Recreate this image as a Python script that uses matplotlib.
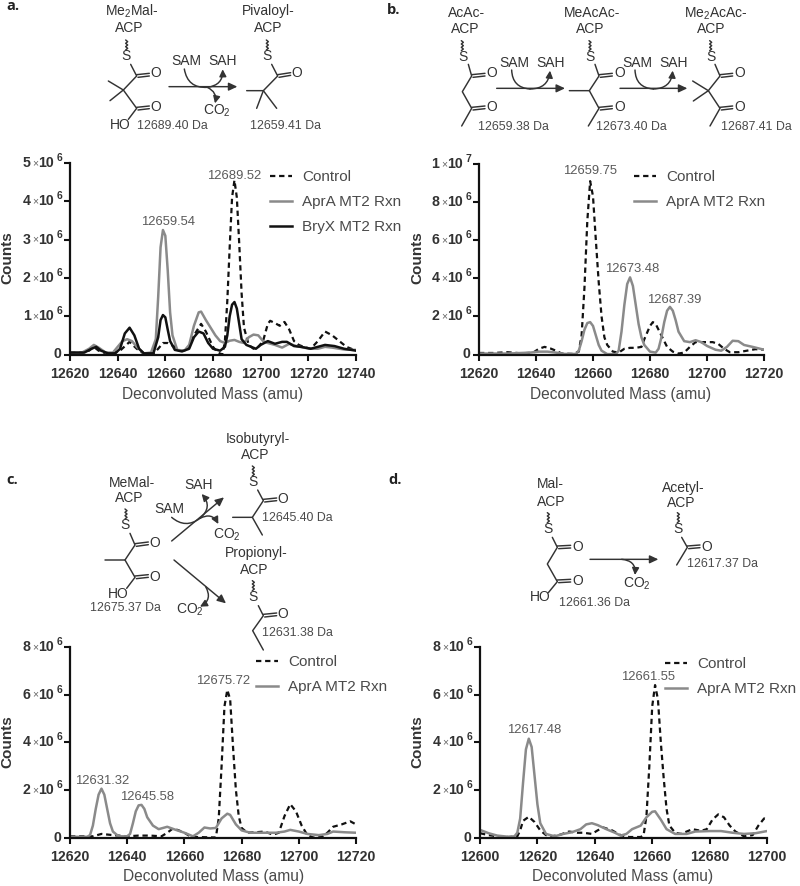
import matplotlib
matplotlib.use('Agg')
import matplotlib.pyplot as plt
from matplotlib.patches import FancyArrowPatch

plt.rcParams['font.family'] = ['Liberation Sans', 'DejaVu Sans']
plt.rcParams['mathtext.default'] = 'regular'

# ---- panel a, counts in 1e6
a_ctrl_x = [12620,12625,12628,12630,12632,12635,12638,12641,12645,12648,12651,12655,12657,12659,12661,12664,12666,12669,12672,12675,12677,12680,12682,12684,12685,12686,12687,12688,12689,12690,12691,12692,12693,12695,12697,12699,12701,12703,12704,12706,12708,12710,12712,12714,12716,12718,12721,12724,12727,12730,12733,12736,12740]
a_ctrl_y = [.05,.05,.1,.2,.1,.03,.03,.1,.33,.15,.02,.02,.15,.3,.3,.2,.1,.1,.5,.8,.6,.2,.05,0,.35,1.4,2.8,4.1,4.55,4.1,2.9,1.6,.7,.25,.15,.2,.35,.8,.88,.82,.75,.85,.65,.35,.25,.2,.15,.35,.6,.5,.35,.2,.1]
a_apra_x = [12620,12625,12628,12630,12632,12635,12638,12640,12642,12644,12646,12648,12651,12654,12656,12657,12658,12659,12660,12661,12662,12663,12665,12668,12670,12672,12674,12675,12677,12679,12681,12683,12685,12687,12689,12691,12693,12695,12697,12699,12701,12703,12706,12709,12712,12715,12718,12721,12724,12727,12730,12735,12740]
a_apra_y = [.05,.05,.15,.25,.18,.05,.05,.2,.35,.4,.35,.2,.03,.05,.4,1.5,2.8,3.25,3.1,2.2,1.1,.5,.12,.1,.25,.75,1.1,1.12,.9,.7,.5,.35,.3,.36,.38,.33,.3,.45,.52,.5,.35,.3,.25,.18,.28,.22,.18,.15,.15,.2,.18,.13,.12]
a_bryx_x = [12620,12626,12629,12631,12633,12636,12639,12641,12643,12645,12647,12649,12651,12655,12657,12658,12659,12660,12661,12662,12664,12667,12670,12672,12674,12676,12678,12680,12683,12685,12686,12687,12688,12689,12690,12691,12692,12694,12696,12698,12700,12703,12706,12709,12711,12714,12717,12721,12724,12727,12731,12735,12740]
a_bryx_y = [.05,.05,.15,.2,.1,.03,.03,.15,.55,.7,.5,.15,.03,.03,.45,.9,1.03,.97,.65,.35,.12,.08,.15,.45,.6,.55,.3,.15,.1,.2,.5,1.0,1.3,1.37,1.2,.8,.4,.25,.2,.15,.25,.35,.28,.33,.33,.22,.2,.15,.2,.25,.22,.15,.1]

# ---- panel b
b_ctrl_x = [12620,12625,12630,12635,12639,12641,12643,12645,12647,12649,12653,12655,12656,12657,12658,12659,12660,12661,12662,12663,12664,12665,12667,12669,12671,12673,12675,12677,12678,12680,12681,12682,12684,12686,12688,12690,12692,12694,12696,12699,12702,12704,12706,12708,12711,12714,12717,12720]
b_ctrl_y = [.08,.08,.12,.06,.1,.3,.4,.32,.2,.05,.03,.15,1.0,3.5,7,9.1,8.3,6,3.8,2,.9,.5,.15,.1,.3,.35,.35,.4,.8,1.5,1.7,1.6,1.0,.4,.15,.05,.1,.4,.65,.65,.65,.55,.3,.12,.12,.2,.28,.25]
b_apra_x = [12620,12630,12638,12641,12644,12647,12650,12654,12655,12656,12657,12658,12659,12660,12661,12662,12663,12665,12668,12669,12670,12671,12672,12673,12674,12675,12676,12677,12678,12680,12682,12683,12684,12685,12686,12687,12688,12689,12690,12692,12694,12696,12698,12700,12703,12705,12707,12709,12711,12713,12716,12720]
b_apra_y = [.05,.05,.1,.15,.15,.1,.03,.03,.2,.7,1.3,1.65,1.7,1.5,1.0,.5,.2,.02,.02,.2,1.2,2.6,3.7,4.05,3.6,2.6,1.6,.9,.5,.15,.1,.3,.9,1.7,2.3,2.5,2.3,1.8,1.2,.7,.65,.75,.65,.45,.25,.2,.4,.72,.7,.5,.4,.25]

# ---- panel c
c_ctrl_x = [12620,12625,12628,12631,12635,12640,12644,12648,12652,12654,12656,12658,12660,12662,12664,12671,12672,12673,12674,12675,12676,12677,12678,12679,12680,12682,12685,12688,12691,12693,12695,12697,12699,12701,12703,12705,12708,12710,12712,12715,12718,12720]
c_ctrl_y = [.05,.05,.05,.15,.1,.05,.08,.08,.05,.2,.38,.3,.2,.05,.02,0,.8,3.0,5.5,6.2,5.8,3.8,2.0,.9,.4,.2,.22,.25,.12,.2,.9,1.4,1.1,.5,.1,0,.02,.2,.45,.55,.68,.55]
c_apra_x = [12620,12626,12627,12628,12629,12630,12631,12632,12633,12634,12635,12637,12640,12641,12642,12643,12644,12645,12646,12647,12649,12651,12654,12657,12660,12662,12663,12665,12667,12669,12671,12673,12675,12676,12678,12680,12683,12686,12689,12692,12695,12697,12700,12703,12707,12710,12712,12716,12720]
c_apra_y = [.03,.03,.1,.5,1.2,1.8,2.05,1.8,1.2,.6,.25,.05,.05,.15,.6,1.1,1.35,1.37,1.2,.85,.5,.35,.45,.32,.2,.1,.05,.2,.42,.38,.4,.8,1.0,.95,.55,.3,.2,.2,.2,.2,.25,.32,.25,.15,.1,.15,.25,.22,.2]

# ---- panel d
d_ctrl_x = [12600,12603,12606,12610,12613,12614,12615,12617,12619,12621,12623,12625,12628,12631,12634,12636,12639,12641,12643,12646,12649,12652,12656,12657,12658,12659,12660,12661,12662,12663,12664,12665,12666,12668,12670,12672,12674,12677,12679,12681,12683,12685,12687,12689,12692,12695,12697,12699,12700]
d_ctrl_y = [.18,.1,.05,.02,.05,.3,.7,.87,.65,.3,.1,.05,.12,.25,.2,.2,.15,.3,.42,.3,.1,.02,.02,.1,.9,3.0,5.5,6.4,5.8,4.0,2.5,1.2,.5,.2,.15,.25,.35,.28,.35,.75,.97,.85,.5,.25,.05,.1,.5,.8,.75]
d_apra_x = [12600,12603,12606,12610,12612,12613,12614,12615,12616,12617,12618,12619,12620,12621,12623,12626,12629,12632,12635,12637,12639,12641,12644,12647,12649,12651,12653,12656,12658,12660,12661,12663,12665,12668,12672,12675,12680,12684,12688,12692,12696,12700]
d_apra_y = [.32,.18,.08,.03,.05,.2,.8,2.3,3.7,4.15,3.8,2.6,1.4,.6,.15,.05,.15,.22,.35,.55,.6,.52,.35,.2,.08,.15,.35,.5,.85,1.08,1.1,.75,.35,.15,.15,.25,.27,.27,.2,.15,.18,.27]

a_xticks = [12620,12640,12660,12680,12700,12720,12740]
b_xticks = [12620,12640,12660,12680,12700,12720]
c_xticks = [12620,12640,12660,12680,12700,12720]
d_xticks = [12600,12620,12640,12660,12680,12700]
a_yticks = [0,1,2,3,4,5]
b_yticks = [0,2,4,6,8,10]
c_yticks = [0,2,4,6,8]

a_peaks = [('12659.54',12661,3.45),('12689.52',12689,4.67)]
b_peaks = [('12659.75',12658.9,9.65),('12673.48',12673.7,4.47),('12687.39',12688.4,2.86)]
c_peaks = [('12631.32',12631.4,2.36),('12645.58',12647,1.7),('12675.72',12673.6,6.57)]
d_peaks = [('12617.48',12618.8,4.5),('12661.55',12658.4,6.74)]

W, H = 800, 886
GREY = '#8a8a8a'
DARK = '#333333'
TXT = '#4a4a4a'
fig = plt.figure(figsize=(W/100, H/100), dpi=100)

# overlay in pixel units for the reaction schemes and legend anchors
ov = fig.add_axes([0,0,1,1], zorder=5)
ov.set_xlim(0,W)
ov.set_ylim(H,0)
ov.axis('off')

def px_axes(x0, x1, ytop, ybot):
	ax = fig.add_axes([x0/W, 1-ybot/H, (x1-x0)/W, (ybot-ytop)/H])
	ax.patch.set_alpha(0)
	for s in ['top','right']:
		ax.spines[s].set_visible(False)
	for s in ['left','bottom']:
		ax.spines[s].set_linewidth(1.6)
		ax.spines[s].set_color('#111111')
	ax.tick_params(length=4.2, width=1.5, color='#111111')
	return ax

def sci_label(ax, y, digit, exp):
	# the x10^n tick labels have a small multiply sign, so built in pieces
	def part(s, dx, size, weight, col, dy=0, ha='right'):
		ax.annotate(s, xy=(0,y), xycoords=('axes fraction','data'), xytext=(dx*.72, dy*.72),
			textcoords='offset points', ha=ha, va='center', fontsize=size, fontweight=weight, color=col)
	part(digit, -39.5, 10.2, 'bold', DARK)
	part('\u00d7', -32, 7.5, 'normal', '#666666')
	part('10', -16.5, 10.2, 'bold', DARK)
	part(exp, -8, 7.5, 'bold', DARK, dy=5)

def style(ax, xlim, ymax, xticks, yticks, ylabels, px_counts, y_counts, y_xlabel, x_xlabel):
	ax.set_xlim(*xlim)
	ax.set_ylim(0, ymax)
	ax.set_xticks(xticks)
	ax.set_yticks(yticks)
	ax.set_xticklabels([str(t) for t in xticks], fontsize=10.2, fontweight='bold', color=DARK)
	ax.tick_params(axis='x', pad=5)
	ax.tick_params(axis='y', labelleft=False)
	for t, lab in zip(yticks, ylabels):
		if lab is None:
			ax.annotate('0', xy=(0,t), xycoords=('axes fraction','data'), xytext=(-6.5,0), textcoords='offset points',
				ha='right', va='center', fontsize=10.2, fontweight='bold', color=DARK)
		else:
			sci_label(ax, t, lab[0], lab[1])
	ov.text(px_counts, y_counts, 'Counts', rotation=90, ha='center', va='center', fontsize=11, fontweight='bold', color=DARK)
	ov.text(x_xlabel, y_xlabel, 'Deconvoluted Mass (amu)', ha='center', va='center', fontsize=11.2, color=TXT)

def peaks(ax, items):
	for s, x, y in items:
		ax.text(x, y, s, ha='center', va='center', fontsize=9.4, color='#5a5a5a')

def legend(ax, x, y):
	ax.legend(loc='upper left', bbox_to_anchor=(x,y), bbox_transform=ov.transData, frameon=False, fontsize=11,
		handlelength=1.45, handletextpad=.65, labelspacing=.72, borderpad=0, borderaxespad=0, labelcolor=TXT)

def ctrl(ax, x, y):
	ax.plot(x, y, color='#111111', lw=1.6, dashes=(2.4,1.7), label='Control')
def apra(ax, x, y):
	ax.plot(x, y, color=GREY, lw=1.8, label='AprA MT2 Rxn')

ax1 = px_axes(70, 356, 163, 354.5)
ctrl(ax1, a_ctrl_x, a_ctrl_y)
apra(ax1, a_apra_x, a_apra_y)
ax1.plot(a_bryx_x, a_bryx_y, color='#111111', lw=1.8, label='BryX MT2 Rxn')
style(ax1, (12620,12740), 5, a_xticks, a_yticks, [None]+[(str(i),'6') for i in a_yticks[1:]], 7.5, 258, 394, 213)
peaks(ax1, a_peaks)
legend(ax1, 270, 170)

ax2 = px_axes(479, 764, 164, 354.5)
ctrl(ax2, b_ctrl_x, b_ctrl_y)
apra(ax2, b_apra_x, b_apra_y)
style(ax2, (12620,12720), 10, b_xticks, b_yticks, [None,('2','6'),('4','6'),('6','6'),('8','6'),('1','7')], 417, 258, 394, 621)
peaks(ax2, b_peaks)
legend(ax2, 634, 170)

ax3 = px_axes(70, 356, 647, 837.5)
ctrl(ax3, c_ctrl_x, c_ctrl_y)
apra(ax3, c_apra_x, c_apra_y)
style(ax3, (12620,12720), 8, c_xticks, c_yticks, [None]+[(str(i),'6') for i in c_yticks[1:]], 7.5, 742, 877, 214)
peaks(ax3, c_peaks)
legend(ax3, 256, 655)

ax4 = px_axes(480, 767, 647, 837.5)
ctrl(ax4, d_ctrl_x, d_ctrl_y)
apra(ax4, d_apra_x, d_apra_y)
style(ax4, (12600,12700), 8, d_xticks, c_yticks, [None]+[(str(i),'6') for i in c_yticks[1:]], 417, 742, 877, 623)
peaks(ax4, d_peaks)
legend(ax4, 665, 657)

# ---- reaction schemes, coordinates are px of the 3x crops, (ox,oy) is the crop corner
def bond(ox, oy, *pts):
	ov.plot([ox+p[0]/3 for p in pts], [oy+p[1]/3 for p in pts], color=DARK, lw=1.05, solid_capstyle='round')

def dbl(ox, oy, x1, y1, x2, y2):
	bond(ox, oy, (x1,y1), (x2,y2))
	bond(ox, oy, (x1+4,y1+8), (x2,y2+8))

def lab(ox, oy, x, y, s, size=10, col=DARK):
	ov.text(ox+x/3, oy+y/3, s, ha='center', va='center', fontsize=size, color=col)

def wavy(ox, oy, x, y1, y2):
	pts = []
	y = y1
	side = -1
	while y <= y2:
		pts.append((x+side*3, y))
		side = -side
		y += 5
	bond(ox, oy, *pts)

def arrow(ox, oy, x1, y1, x2, y2):
	ov.add_patch(FancyArrowPatch((ox+x1/3,oy+y1/3), (ox+x2/3,oy+y2/3), arrowstyle='-|>,head_length=3.2,head_width=1.5',
		mutation_scale=1.6, lw=1.05, color=DARK, shrinkA=0, shrinkB=0))

def curve(ox, oy, x1, y1, x2, y2, rad, head=True):
	style_s = '-|>,head_length=2.6,head_width=1.3' if head else '-'
	ov.add_patch(FancyArrowPatch((ox+x1/3,oy+y1/3), (ox+x2/3,oy+y2/3), arrowstyle=style_s, mutation_scale=1.6,
		connectionstyle='arc3,rad=%g' % rad, lw=1.05, color=DARK, shrinkA=0, shrinkB=0))

def da(ox, oy, x, y, s):
	lab(ox, oy, x, y, s, size=8.9, col=TXT)

for x, y, s in [(6,6,'a.'),(387,10,'b.'),(6,480,'c.'),(388,480,'d.')]:
	ov.text(x, y, s, ha='left', va='center', fontsize=10.5, fontweight='bold', color='#222222', family='Open Sans')

# a
lab(0,0,395,33,'Me$_2$Mal-'); lab(0,0,387,85,'ACP'); wavy(0,0,380,120,150); lab(0,0,378,168,'S')
bond(0,0,(392,193),(410,228),(370,270),(325,243)); bond(0,0,(370,270),(330,302)); bond(0,0,(370,270),(410,325),(385,358))
dbl(0,0,410,224,448,220); dbl(0,0,410,322,448,318)
lab(0,0,468,218,'O'); lab(0,0,468,320,'O'); lab(0,0,362,375,'HO'); da(0,0,517,377,'12689.40 Da')
arrow(0,0,507,260,712,260)
lab(0,0,560,183,'SAM'); lab(0,0,668,183,'SAH')
curve(0,0,553,207,622,262,.45,False); curve(0,0,622,262,668,208,.45); curve(0,0,622,262,645,310,-.4)
lab(0,0,650,332,'CO$_2$')
lab(0,0,805,33,'Pivaloyl-'); lab(0,0,805,85,'ACP'); wavy(0,0,802,120,150); lab(0,0,802,168,'S')
bond(0,0,(815,193),(833,228),(790,272),(740,272)); bond(0,0,(790,272),(770,325)); bond(0,0,(790,272),(830,325))
dbl(0,0,833,224,872,218); lab(0,0,890,218,'O'); da(0,0,858,377,'12659.41 Da')

# b
lab(400,0,200,40,'AcAc-'); lab(400,0,195,88,'ACP'); wavy(400,0,187,122,152); lab(400,0,188,170,'S')
bond(400,0,(205,193),(215,228),(187,275),(215,325),(185,378))
dbl(400,0,215,224,255,220); dbl(400,0,215,322,255,318)
lab(400,0,275,220,'O'); lab(400,0,275,322,'O'); da(400,0,340,380,'12659.38 Da')
arrow(400,0,290,265,495,265)
lab(400,0,342,188,'SAM'); lab(400,0,452,188,'SAH')
curve(400,0,335,210,390,267,.45,False); curve(400,0,390,267,450,212,.45)
lab(400,0,577,40,'MeAcAc-'); lab(400,0,572,88,'ACP'); wavy(400,0,570,122,152); lab(400,0,570,170,'S')
bond(400,0,(585,193),(597,228),(568,272),(508,272)); bond(400,0,(568,272),(597,325),(565,378))
dbl(400,0,597,224,637,220); dbl(400,0,597,322,637,318)
lab(400,0,658,220,'O'); lab(400,0,658,322,'O'); da(400,0,695,380,'12673.40 Da')
arrow(400,0,660,265,862,265)
lab(400,0,712,188,'SAM'); lab(400,0,820,188,'SAH')
curve(400,0,705,210,760,267,.45,False); curve(400,0,760,267,818,212,.45)
lab(400,0,947,40,'Me$_2$AcAc-'); lab(400,0,935,88,'ACP'); wavy(400,0,932,122,152); lab(400,0,932,170,'S')
bond(400,0,(945,193),(960,228),(925,272),(878,243)); bond(400,0,(925,272),(880,303)); bond(400,0,(925,272),(960,325),(930,378))
dbl(400,0,960,224,998,220); dbl(400,0,960,322,998,318)
lab(400,0,1018,220,'O'); lab(400,0,1018,322,'O'); da(400,0,1068,380,'12687.41 Da')

# c
lab(0,440,397,130,'MeMal-'); lab(0,440,388,175,'ACP'); wavy(0,440,378,207,240); lab(0,440,376,255,'S')
bond(0,440,(390,280),(405,315),(375,360),(315,360)); bond(0,440,(375,360),(405,412),(380,445))
dbl(0,440,405,311,445,306); dbl(0,440,405,408,445,404)
lab(0,440,463,308,'O'); lab(0,440,463,412,'O'); lab(0,440,355,463,'HO'); da(0,440,377,505,'12675.37 Da')
arrow(0,440,515,303,672,172); arrow(0,440,522,360,678,490)
lab(0,440,508,208,'SAM'); lab(0,440,595,135,'SAH'); lab(0,440,680,283,'CO$_2$')
curve(0,440,515,232,600,235,.4,False); curve(0,440,600,235,605,162,.5); curve(0,440,600,235,655,252,-.5)
lab(0,440,570,508,'CO$_2$')
curve(0,440,617,440,600,500,-.5)
lab(0,440,775,-3,'Isobutyryl-'); lab(0,440,765,45,'ACP'); wavy(0,440,760,78,110); lab(0,440,760,125,'S')
bond(0,440,(773,150),(790,182),(757,232),(698,232)); bond(0,440,(757,232),(787,285))
dbl(0,440,790,178,830,174); lab(0,440,848,178,'O'); da(0,440,892,235,'12645.40 Da')
lab(0,440,770,340,'Propionyl-'); lab(0,440,762,390,'ACP'); wavy(0,440,760,422,455); lab(0,440,760,472,'S')
bond(0,440,(775,497),(790,527),(758,572),(790,630))
dbl(0,440,790,523,830,519); lab(0,440,848,522,'O'); da(0,440,893,580,'12631.38 Da')

# d
lab(400,440,452,132,'Mal-'); lab(400,440,455,185,'ACP'); wavy(400,440,445,218,250); lab(400,440,443,268,'S')
bond(400,440,(457,292),(472,322),(442,372),(472,425),(445,458))
dbl(400,440,472,318,512,316); dbl(400,440,472,420,512,418)
lab(400,440,533,320,'O'); lab(400,440,533,422,'O'); lab(400,440,420,472,'HO'); da(400,440,583,488,'12661.36 Da')
arrow(400,440,570,358,775,358); curve(400,440,665,358,705,405,-.5); lab(400,440,712,432,'CO$_2$')
lab(400,440,850,143,'Acetyl-'); lab(400,440,843,188,'ACP'); wavy(400,440,835,218,250); lab(400,440,833,268,'S')
bond(400,440,(845,292),(862,322),(830,375))
dbl(400,440,862,318,900,315); lab(400,440,920,320,'O'); da(400,440,968,372,'12617.37 Da')

fig.savefig('out.png', dpi=100)
